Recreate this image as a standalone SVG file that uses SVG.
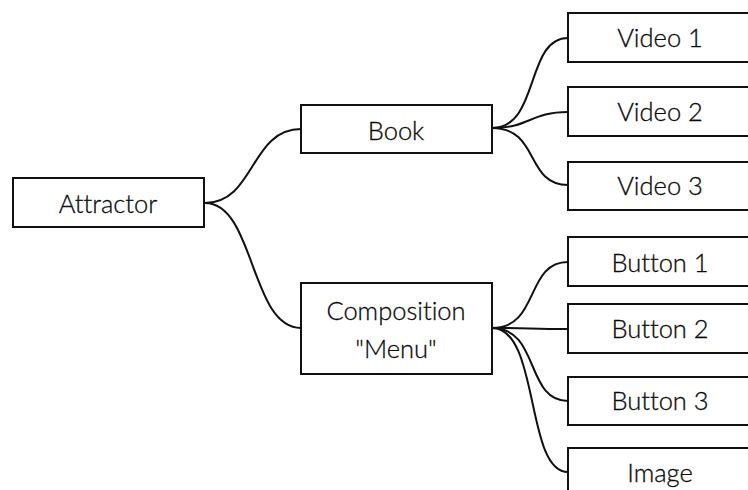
<svg xmlns="http://www.w3.org/2000/svg" width="748" height="490" viewBox="0 0 748 490">
  <style>
    .box { fill: #ffffff; stroke: #111111; stroke-width: 2; }
    .label { font-family: Lato, "Noto Sans", sans-serif; font-size: 25.5px; font-weight: 300; font-variant-ligatures: none; fill: #0a0a0a; stroke: #0a0a0a; stroke-width: 0.3; text-anchor: middle; }
    .link { fill: none; stroke: #111111; stroke-width: 2; }
  </style>
  <rect width="748" height="490" fill="#ffffff"/>

  <g id="connectors">
    <path class="link" d="M205,203 C255,203 250,129 301,129"/>
    <path class="link" d="M205,203 C255,203 250,328 301,328"/>
    <path class="link" d="M492,128 C540,128 525,38 568,38"/>
    <path class="link" d="M492,128 C530,128 530,112 568,112"/>
    <path class="link" d="M492,128 C540,128 525,185 568,185"/>
    <path class="link" d="M492,328 C540,328 525,262 568,262"/>
    <path class="link" d="M492,328 C530,328 530,329 568,329"/>
    <path class="link" d="M492,328 C540,328 525,401 568,401"/>
    <path class="link" d="M492,328 C540,328 525,472 568,472"/>
  </g>

  <g id="attractor">
    <rect class="box" x="13" y="178" width="191" height="49"/>
    <text class="label" x="108" y="213">Attractor</text>
  </g>
  <g id="book">
    <rect class="box" x="301" y="105" width="191" height="48"/>
    <text class="label" x="396" y="140">Book</text>
  </g>
  <g id="composition-menu">
    <rect class="box" x="301" y="283" width="191" height="91"/>
    <text class="label" x="396" y="320">Composition</text>
    <text class="label" x="396" y="358">"Menu"</text>
  </g>
  <g id="video-1">
    <rect class="box" x="568" y="13" width="191" height="49"/>
    <text class="label" x="660" y="47">Video 1</text>
  </g>
  <g id="video-2">
    <rect class="box" x="568" y="87" width="191" height="49"/>
    <text class="label" x="660" y="121">Video 2</text>
  </g>
  <g id="video-3">
    <rect class="box" x="568" y="162" width="191" height="48"/>
    <text class="label" x="660" y="195">Video 3</text>
  </g>
  <g id="button-1">
    <rect class="box" x="568" y="237" width="191" height="49"/>
    <text class="label" x="660" y="272">Button 1</text>
  </g>
  <g id="button-2">
    <rect class="box" x="568" y="304" width="191" height="49"/>
    <text class="label" x="660" y="338">Button 2</text>
  </g>
  <g id="button-3">
    <rect class="box" x="568" y="377" width="191" height="48"/>
    <text class="label" x="660" y="410">Button 3</text>
  </g>
  <g id="image">
    <rect class="box" x="568" y="448" width="191" height="49"/>
    <text class="label" x="660" y="482">Image</text>
  </g>
</svg>
